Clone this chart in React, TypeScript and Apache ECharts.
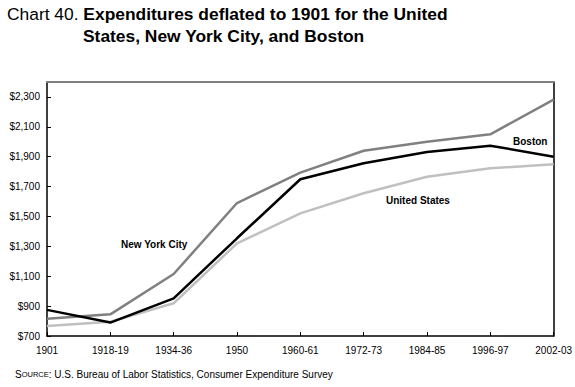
import React, { useEffect, useRef } from "react";
import * as echarts from "echarts";

const categories = ["1901", "1918-19", "1934-36", "1950", "1960-61", "1972-73", "1984-85", "1996-97", "2002-03"];
const newYorkCity = [815, 845, 1115, 1590, 1793, 1940, 2000, 2050, 2282];
const boston = [875, 790, 952, 1354, 1749, 1856, 1932, 1974, 1900];
const unitedStates = [767, 795, 919, 1320, 1521, 1655, 1766, 1822, 1849];

const FONT = "'Liberation Sans', Arial, sans-serif";

export default function App() {
  const ref = useRef<HTMLDivElement>(null);
  useEffect(() => {
    if (!ref.current) return;
    const chart = echarts.init(ref.current, undefined, { renderer: "svg" });
    const lineSeries = (name: string, data: number[], color: string) => ({
      name,
      type: "line",
      data,
      symbol: "none",
      lineStyle: { color, width: 2.5 },
      itemStyle: { color },
      z: name === "Boston" ? 5 : 3,
    });
    chart.setOption({
      animation: false,
      backgroundColor: "#ffffff",
      textStyle: { fontFamily: FONT },
      title: [
        {
          text: "{n|Chart 40. }{b|Expenditures deflated to 1901 for the United}",
          left: 7,
          top: 5,
          padding: 0,
          textStyle: {
            rich: {
              n: { fontSize: 17.4, fontWeight: "normal", color: "#000", fontFamily: FONT },
              b: { fontSize: 17.4, fontWeight: "bold", color: "#000", fontFamily: FONT },
            },
          },
        },
        {
          text: "States, New York City, and Boston",
          left: 83,
          top: 27,
          padding: 0,
          textStyle: { fontSize: 17.4, fontWeight: "bold", color: "#000", fontFamily: FONT },
        },
        {
          text: "{a|S}{b|OURCE}{a|: U.S. Bureau of Labor Statistics, Consumer Expenditure Survey}",
          left: 15,
          top: 369,
          padding: 0,
          textStyle: {
            fontWeight: "normal",
            rich: {
              a: { fontSize: 10, fontWeight: "normal", color: "#000", fontFamily: FONT },
              b: { fontSize: 7.5, fontWeight: "normal", color: "#000", fontFamily: FONT },
            },
          },
        },
      ],
      grid: { left: 47, right: 21, top: 82, bottom: 51, containLabel: false },
      xAxis: [
        {
          type: "category",
          data: categories,
          boundaryGap: false,
          axisLine: { lineStyle: { color: "#000", width: 1.5 } },
          axisTick: { inside: true, length: 4, lineStyle: { color: "#000" } },
          axisLabel: { fontSize: 10, color: "#000", margin: 9, fontFamily: FONT, interval: 0 },
          splitLine: { show: false },
        },
        {
          type: "category",
          data: categories,
          position: "top",
          boundaryGap: false,
          axisLine: { lineStyle: { color: "#808080", width: 2 } },
          axisTick: { show: false },
          axisLabel: { show: false },
        },
      ],
      yAxis: [
        {
          type: "value",
          min: 700,
          max: 2400,
          interval: 200,
          axisLine: { show: true, lineStyle: { color: "#000", width: 1.5 } },
          axisTick: { show: true, inside: true, length: 4, lineStyle: { color: "#000" } },
          axisLabel: {
            fontSize: 10,
            color: "#000",
            margin: 7,
            fontFamily: FONT,
            showMaxLabel: false,
            formatter: (v: number) => (v > 2300 ? "" : "$" + v.toLocaleString("en-US")),
          },
          splitLine: { show: false },
        },
        {
          type: "value",
          min: 700,
          max: 2400,
          interval: 200,
          position: "right",
          axisLine: { show: true, lineStyle: { color: "#000", width: 1.5 } },
          axisTick: { show: false },
          axisLabel: { show: false },
          splitLine: { show: false },
        },
      ],
      series: [
        lineSeries("United States", unitedStates, "#c0c0c0"),
        lineSeries("New York City", newYorkCity, "#808080"),
        lineSeries("Boston", boston, "#000000"),
      ],
      graphic: [
        {
          type: "text",
          left: 121,
          top: 239,
          style: { text: "New York City", fontSize: 10, fontWeight: "bold", fill: "#000", fontFamily: FONT },
        },
        {
          type: "text",
          left: 386,
          top: 195,
          style: { text: "United States", fontSize: 10, fontWeight: "bold", fill: "#000", fontFamily: FONT },
        },
        {
          type: "text",
          left: 513,
          top: 136,
          style: { text: "Boston", fontSize: 10, fontWeight: "bold", fill: "#000", fontFamily: FONT },
        },
      ],
    });
    return () => chart.dispose();
  }, []);
  return <div ref={ref} style={{ width: 575, height: 387, position: "absolute", left: 0, top: 0 }} />;
}
